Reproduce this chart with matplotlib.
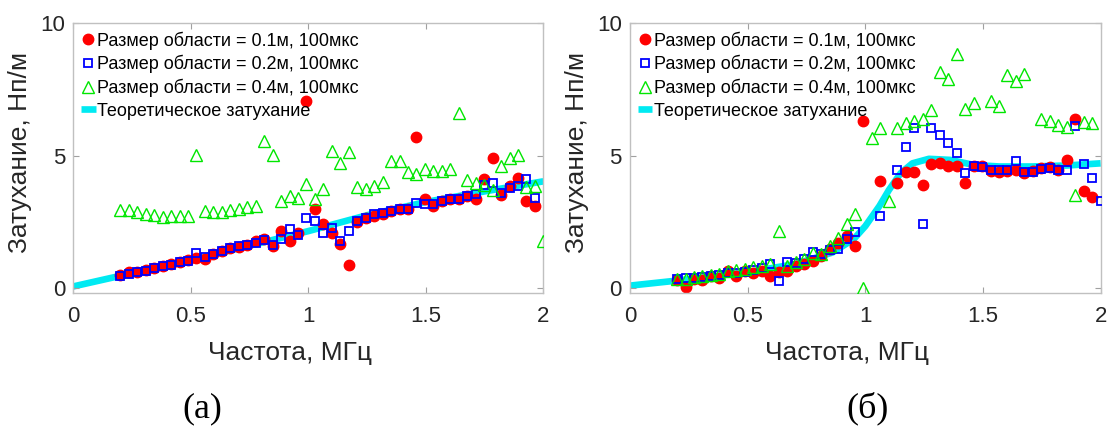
import numpy as np
import matplotlib
matplotlib.use("Agg")
import matplotlib.pyplot as plt

plt.rcParams['font.family'] = ['Liberation Sans', 'DejaVu Sans']

nan = np.nan

# frequency grid, MHz
freq = [0.2, 0.236, 0.272, 0.308, 0.344, 0.38, 0.416, 0.452, 0.488, 0.524,
        0.56, 0.596, 0.632, 0.668, 0.704, 0.74, 0.776, 0.812, 0.848, 0.884,
        0.92, 0.956, 0.992, 1.028, 1.064, 1.1, 1.136, 1.172, 1.208, 1.244,
        1.28, 1.316, 1.352, 1.388, 1.424, 1.46, 1.496, 1.532, 1.568, 1.604,
        1.64, 1.676, 1.712, 1.748, 1.784, 1.82, 1.856, 1.892, 1.928, 1.964, 2.0]

# panel (a)
a_01 = [0.5, 0.6, 0.62, 0.68, 0.76, 0.84, 0.9, 1.0, 1.05, 1.12,
        1.1, 1.3, 1.4, 1.5, 1.55, 1.63, 1.78, 1.86, 1.6, 2.15,
        1.78, 2.09, 7.08, 3.0, 2.4, 2.07, 1.65, 0.86, 2.49, 2.66,
        2.72, 2.8, 2.9, 2.97, 3.0, 5.7, 3.35, 3.1, 3.3, 3.38,
        3.38, 3.48, 3.35, 4.1, 4.9, 3.5, 3.85, 4.16, 3.3, 3.09, nan]
a_02 = [0.46, 0.53, 0.59, 0.65, 0.74, 0.82, 0.88, 0.99, 1.03, 1.34,
        1.18, 1.3, 1.38, 1.5, 1.57, 1.63, 1.69, 1.8, 1.63, 1.84,
        2.22, 2.0, 2.66, 2.53, 2.09, 2.28, 1.78, 2.15, 2.53, 2.66,
        2.78, 2.82, 2.91, 2.97, 3.0, 3.22, 3.16, 3.16, 3.28, 3.37,
        3.37, 3.47, 3.57, 3.91, 3.95, 3.6, 3.78, 3.85, 4.1, 3.41, nan]
a_04 = [2.94, 2.94, 2.88, 2.78, 2.74, 2.69, 2.71, 2.71, 2.71, 5.02,
        2.9, 2.86, 2.86, 2.94, 3.0, 3.05, 3.09, 5.56, 5.02, 3.28,
        3.46, 3.4, 3.93, 3.37, 3.75, 5.19, 4.74, 5.15, 3.8, 3.74,
        3.86, 3.99, 4.8, 4.8, 4.38, 4.3, 4.5, 4.41, 4.41, 4.51,
        6.6, 4.07, 3.97, 3.91, 3.72, 4.6, 4.91, 5.01, 3.81, 3.85, 1.78]
a_theory_f = [0, 0.25, 0.5, 0.75, 1.0, 1.25, 1.5, 1.75, 2.0]
a_theory = [0.06, 0.56, 1.05, 1.6, 2.15, 2.75, 3.25, 3.65, 4.03]

# panel (б)
b_01 = [0.3, 0.05, 0.35, 0.3, 0.45, 0.38, 0.65, 0.45, 0.65, 0.55,
        0.65, 0.45, 0.6, 0.65, 0.84, 0.9, 1.03, 1.21, 1.46, 1.7,
        1.96, 1.59, 6.31, nan, 4.03, nan, 3.96, 4.4, 4.4, 3.9,
        4.69, 4.74, 4.61, 4.61, 3.96, 4.6, 4.6, 4.42, 4.39, 4.42,
        4.46, 4.35, 4.42, 4.55, 4.59, 4.46, 4.84, 6.4, 3.65, 3.44, nan]
b_02 = [0.34, 0.36, 0.38, 0.4, 0.45, 0.48, 0.55, 0.58, 0.6, 0.68,
        0.75, 0.9, 0.27, 0.99, 0.95, 1.1, 1.36, 1.3, 1.45, 1.49,
        1.86, 2.11, nan, nan, 2.71, nan, 4.44, 5.34, 6.06, 2.4,
        6.06, 5.78, 5.49, 5.11, 4.36, 4.61, 4.56, 4.44, 4.44, 4.44,
        4.78, 4.4, 4.4, 4.49, 4.53, 4.46, 4.46, 6.11, 4.69, 4.15, 3.28]
b_04 = [0.34, 0.34, 0.4, 0.44, 0.49, 0.53, 0.65, 0.69, 0.71, 0.78,
        0.84, 0.9, 2.15, 0.84, 0.99, 1.09, 1.34, 1.28, 1.59, 1.9,
        2.4, 2.78, 0.0, 5.65, 6.03, 3.28, 6.06, 6.24, 6.31, 6.4,
        6.74, 8.15, 7.9, 8.84, 6.78, 6.99, nan, 7.06, 6.86, 8.03,
        7.81, 8.09, nan, 6.4, 6.3, 6.15, 6.09, 3.5, 6.28, 6.24, nan]
b_theory_f = [0, 0.2, 0.5, 0.7, 0.86, 0.95, 1.0, 1.06, 1.1, 1.15, 1.2,
              1.27, 1.36, 1.46, 1.57, 1.71, 1.86, 2.0]
b_theory = [0.09, 0.28, 0.6, 0.9, 1.34, 1.84, 2.34, 3.1, 3.7, 4.34, 4.71,
            4.88, 4.84, 4.65, 4.59, 4.59, 4.63, 4.71]

labels = ["Размер области = 0.1м, 100мкс",
          "Размер области = 0.2м, 100мкс",
          "Размер области = 0.4м, 100мкс",
          "Теоретическое затухание"]

fig = plt.figure(figsize=(11.08, 4.26), dpi=100)
ax_a = fig.add_axes([0.0662, 0.3115, 0.4242, 0.6338])
ax_b = fig.add_axes([0.5686, 0.3115, 0.4248, 0.6338])


def draw_panel(ax, red, blue, green, tf, ty):
    h_line, = ax.plot(tf, ty, color='#00eaf2', lw=4.8, solid_capstyle='butt', zorder=1)
    h_red, = ax.plot(freq, red, 'o', color='red', ms=7.5, mec='red', zorder=2)
    h_blue, = ax.plot(freq, blue, 's', mfc='none', mec='#0000ff', ms=5.8, mew=1.3, zorder=3)
    h_green, = ax.plot(freq, green, '^', mfc='none', mec='#00e600', ms=9, mew=1.0, zorder=4)
    ax.set_xlim(0, 2)
    ax.set_ylim(-0.2, 10)
    ax.set_xticks([0, 0.5, 1, 1.5, 2])
    ax.set_xticklabels(['0', '0.5', '1', '1.5', '2'])
    ax.set_yticks([0, 5, 10])
    ax.tick_params(direction='in', top=True, right=True, length=4, width=0.8,
                   color='#a0a0a0', labelcolor='#262626', labelsize=16)
    ax.tick_params(axis='x', pad=9)
    ax.tick_params(axis='y', pad=6)
    for sp in ax.spines.values():
        sp.set_color('#c0c0c0')
        sp.set_linewidth(1.0)
    ax.set_xlabel('Частота, МГц', fontsize=19, color='#262626')
    ax.set_ylabel('Затухание, Нп/м', fontsize=19, color='#262626')
    ax.xaxis.set_label_coords(0.46, -0.177)
    ax.yaxis.set_label_coords(-0.088, 0.52)
    ax.legend([h_red, h_blue, h_green, h_line], labels, loc='upper left',
              bbox_to_anchor=(0.005, 0.99), frameon=False, fontsize=13,
              handlelength=0.8, handletextpad=0.1, labelspacing=0.3,
              borderaxespad=0.1, borderpad=0.2)


draw_panel(ax_a, a_01, a_02, a_04, a_theory_f, a_theory)
draw_panel(ax_b, b_01, b_02, b_04, b_theory_f, b_theory)

fig.text(0.183, 0.04, '(а)', fontsize=26, family='Liberation Serif', ha='center', va='center')
fig.text(0.783, 0.04, '(б)', fontsize=26, family='Liberation Serif', ha='center', va='center')

fig.savefig('out.png', dpi=100)
